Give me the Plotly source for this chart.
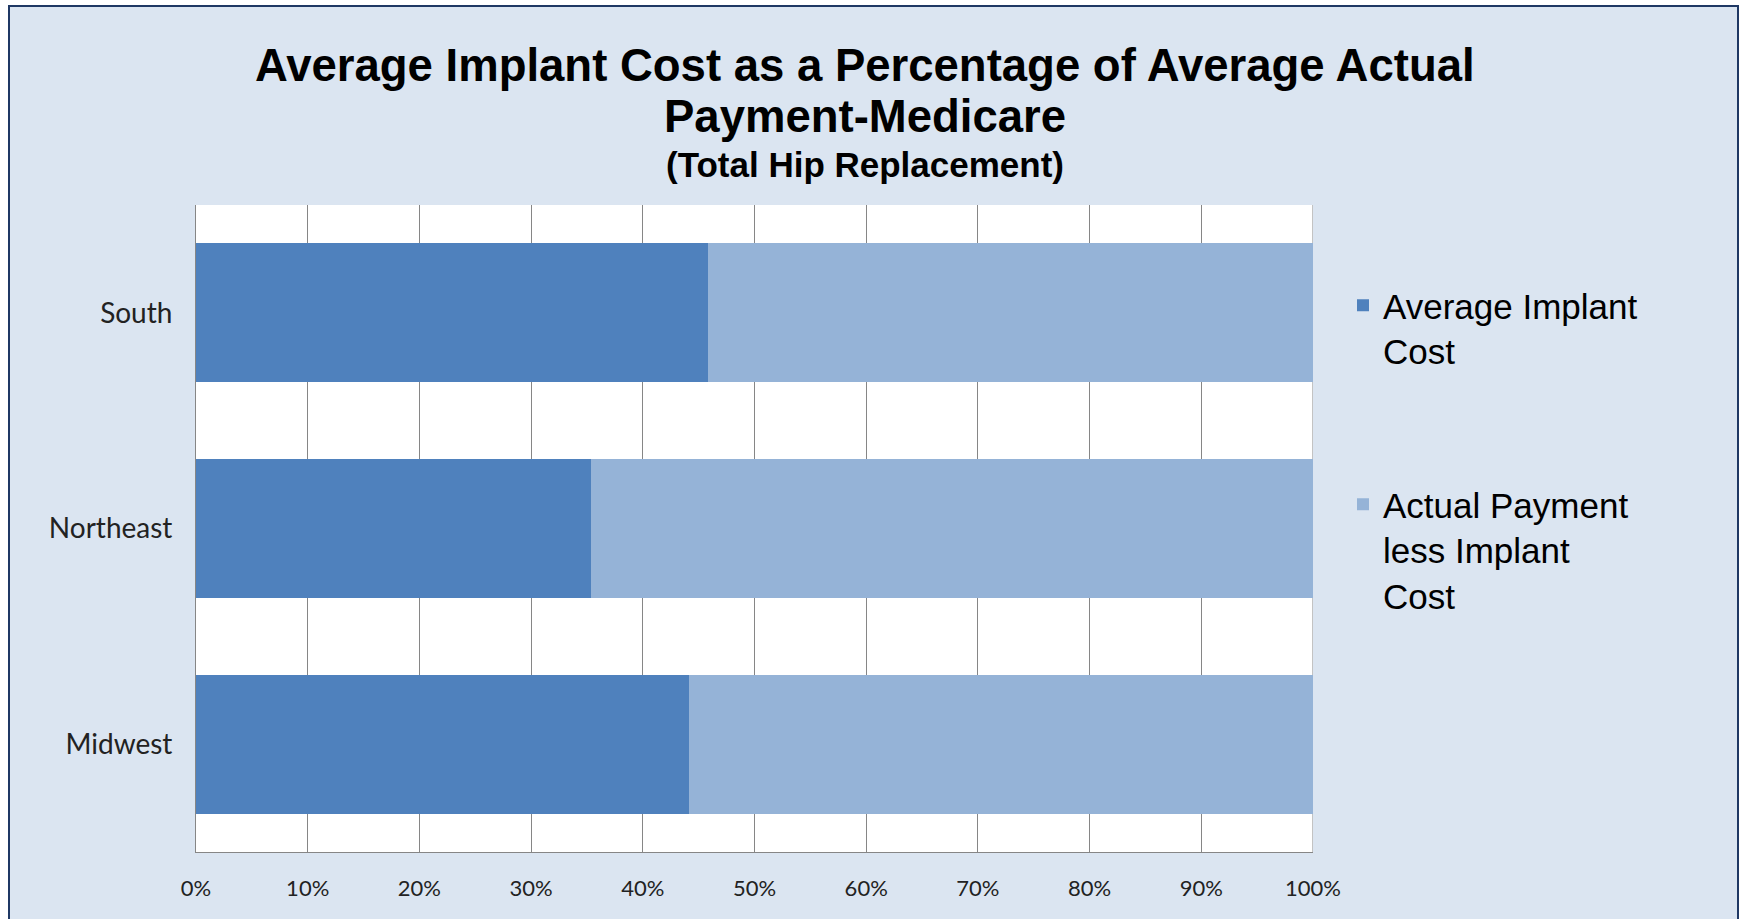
import plotly.graph_objects as go

# ---- data ----
regions = ["South", "Northeast", "Midwest"]
implant_pct = [45.8, 35.4, 44.1]
remainder_pct = [54.2, 64.6, 55.9]
series_names = ["Average Implant<br>Cost", "Actual Payment<br>less Implant<br>Cost"]
tick_vals = [0, 10, 20, 30, 40, 50, 60, 70, 80, 90, 100]
tick_text = ["0%", "10%", "20%", "30%", "40%", "50%", "60%", "70%", "80%", "90%", "100%"]

W, H = 1741, 919
L, R, T, B = 196, 428, 205, 67
PW, PH = W - L - R, H - T - B

def px(x):
    return (x - L) / PW

def py(y):
    return (H - B - y) / PH

BG = "#DBE5F1"
DARK = "#4F81BD"
LIGHT = "#95B3D7"
GRID = "#868686"

fig = go.Figure()
fig.add_trace(go.Bar(
    y=regions, x=implant_pct, orientation="h", name=series_names[0],
    marker=dict(color=DARK, line=dict(width=0)), legendgroup="a",
))
fig.add_trace(go.Bar(
    y=regions, x=remainder_pct, orientation="h", name=series_names[1],
    marker=dict(color=LIGHT, line=dict(width=0)), legendgroup="b",
))

title_font = "Liberation Sans, Arial, sans-serif"
annotations = [
    dict(text="<b>Average Implant Cost as a Percentage of Average Actual</b>",
         x=px(865), y=py(92.5), xref="paper", yref="paper", xanchor="center", yanchor="bottom",
         showarrow=False, font=dict(family=title_font, size=45.5, color="black")),
    dict(text="<b>Payment-Medicare</b>",
         x=px(865), y=py(143.5), xref="paper", yref="paper", xanchor="center", yanchor="bottom",
         showarrow=False, font=dict(family=title_font, size=45.5, color="black")),
    dict(text="<b>(Total Hip Replacement)</b>",
         x=px(865), y=py(185.5), xref="paper", yref="paper", xanchor="center", yanchor="bottom",
         showarrow=False, font=dict(family=title_font, size=35, color="black")),
]

shapes = [
    dict(type="rect", xref="paper", yref="paper", layer="below",
         x0=px(9), x1=px(1738), y0=py(930), y1=py(6),
         fillcolor=BG, line=dict(color="#1F3864", width=2)),
    dict(type="rect", xref="paper", yref="paper", layer="below",
         x0=0, x1=1, y0=0, y1=1,
         fillcolor="white", line=dict(width=0)),
    dict(type="line", xref="x", yref="paper", layer="below",
         x0=100, x1=100, y0=0, y1=1,
         line=dict(color=GRID, width=1)),
]

fig.update_layout(
    width=W, height=H,
    margin=dict(l=L, r=R, t=T, b=B, autoexpand=False),
    paper_bgcolor="white",
    plot_bgcolor="white",
    barmode="stack",
    bargap=0.356,
    showlegend=True,
    legend=dict(
        x=1343 / W, y=1 - 276 / H, xref="container", yref="container",
        xanchor="left", yanchor="top",
        traceorder="grouped", tracegroupgap=105, valign="top",
        bgcolor="rgba(0,0,0,0)",
        font=dict(family="Liberation Sans, Arial, sans-serif", size=35, color="black"),
    ),
    xaxis=dict(
        range=[0, 100], tickvals=tick_vals, ticktext=tick_text,
        showgrid=True, gridcolor=GRID, gridwidth=1,
        showline=True, linecolor=GRID, linewidth=1,
        ticks="", ticklabelstandoff=17, zeroline=False,
        tickfont=dict(family="Lato, sans-serif", size=22, color="#222222"),
        fixedrange=True,
    ),
    yaxis=dict(
        categoryorder="array", categoryarray=regions, autorange="reversed",
        showgrid=False, showline=True, linecolor=GRID, linewidth=1,
        ticks="", ticklabelstandoff=17,
        tickfont=dict(family="Lato, sans-serif", size=28, color="#222222"),
        fixedrange=True,
    ),
    annotations=annotations,
    shapes=shapes,
)

fig.write_html("out.html", config={"displayModeBar": False},
               post_script="document.body.style.margin='0';")
